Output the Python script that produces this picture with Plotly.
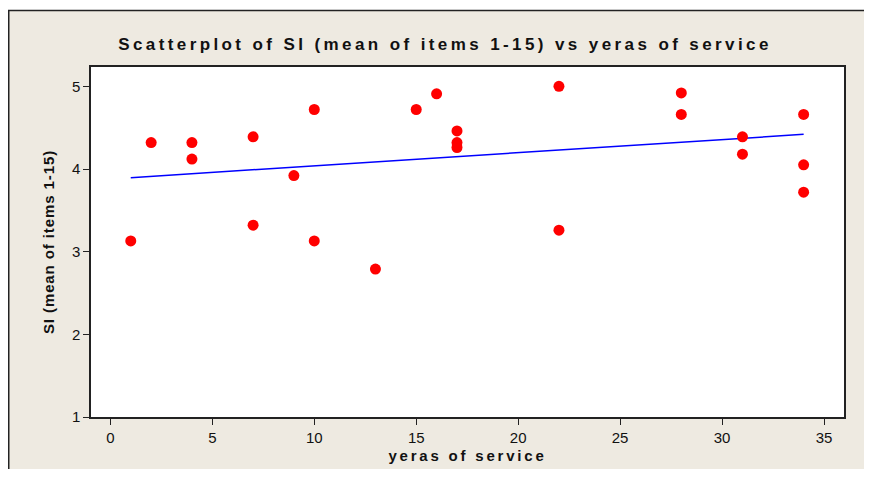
import numpy as np
import plotly.graph_objects as go

# ---- data ----
years = [1, 2, 4, 4, 7, 7, 9, 10, 10, 13, 15, 16, 17, 17, 17, 22, 22, 28, 28, 31, 31, 34, 34, 34]
si_mean = [3.13, 4.32, 4.32, 4.12, 4.39, 3.32, 3.92, 4.72, 3.13, 2.79, 4.72, 4.91, 4.46, 4.32,
           4.26, 5.00, 3.26, 4.92, 4.66, 4.39, 4.18, 4.66, 4.05, 3.72]
x_ticks = [0, 5, 10, 15, 20, 25, 30, 35]
y_ticks = [1, 2, 3, 4, 5]

title_text = "Scatterplot of SI (mean of items 1-15) vs yeras of service"
x_title = "yeras of service"
y_title = "SI (mean of items 1-15)"

# least-squares fit line
slope, intercept = np.polyfit(years, si_mean, 1)
fit_x = [min(years), max(years)]
fit_y = [intercept + slope * v for v in fit_x]

# page has an 8px body margin; size the figure so the page does not overflow
W, H = 856, 461
ML, MR, MT, MB = 83, 20, 59, 52
PW, PH = W - ML - MR, H - MT - MB
BEIGE = "#EEEAE1"
INK = "#111111"


def px_x(p):
    return (p - ML) / PW


def px_y(p):
    return (H - MB - p) / PH


fig = go.Figure()
fig.add_trace(go.Scatter(x=fit_x, y=fit_y, mode="lines",
                         line=dict(color="#0000FF", width=1.5), hoverinfo="skip"))
fig.add_trace(go.Scatter(x=years, y=si_mean, mode="markers",
                         marker=dict(color="#FF0000", size=11, line=dict(width=0))))

shapes = [
    # white strip above the beige frame
    dict(type="rect", xref="paper", yref="paper", x0=px_x(-2), x1=px_x(W + 2), y0=px_y(2), y1=px_y(-2),
         fillcolor="white", line=dict(width=0), layer="above"),
    # dark frame lines (top and left)
    dict(type="line", xref="paper", yref="paper", x0=px_x(0), x1=px_x(W), y0=px_y(2.5), y1=px_y(2.5),
         line=dict(color="#222222", width=1.5), layer="above"),
    dict(type="line", xref="paper", yref="paper", x0=px_x(0.75), x1=px_x(0.75), y0=px_y(2), y1=px_y(H),
         line=dict(color="#222222", width=1.5), layer="above"),
]

fig.update_layout(
    width=W, height=H,
    margin=dict(l=ML, r=MR, t=MT, b=MB, autoexpand=False),
    paper_bgcolor=BEIGE, plot_bgcolor="white",
    showlegend=False,
    font=dict(family="Liberation Sans, Arial, sans-serif", color=INK, size=15),
    title=dict(text='<span style="letter-spacing:3.4px">' + title_text + "</span>",
               xref="container", x=437 / W, xanchor="center",
               yref="container", y=1 - 36 / H, yanchor="middle",
               font=dict(size=17, weight="bold", color=INK)),
    shapes=shapes,
)

fig.update_xaxes(range=[-0.95, 35.98], tickvals=x_ticks, ticks="outside", ticklen=6,
                 tickwidth=1.2, tickcolor="#222222", showgrid=False, zeroline=False,
                 showline=True, linecolor="#222222", linewidth=1.5, mirror=True,
                 automargin=False, tickfont=dict(size=15, color=INK),
                 title=dict(text='<span style="letter-spacing:2.8px">' + x_title + "</span>",
                            font=dict(size=15, weight="bold", color=INK), standoff=6))
fig.update_yaxes(range=[1, 5.234], tickvals=y_ticks, ticks="outside", ticklen=6,
                 tickwidth=1.2, tickcolor="#222222", showgrid=False, zeroline=False,
                 showline=True, linecolor="#222222", linewidth=1.5, mirror=True,
                 automargin=False, tickfont=dict(size=15, color=INK),
                 title=dict(text='<span style="letter-spacing:0.9px">' + y_title + "</span>",
                            font=dict(size=15, weight="bold", color=INK), standoff=14))

fig.write_html("out.html")
